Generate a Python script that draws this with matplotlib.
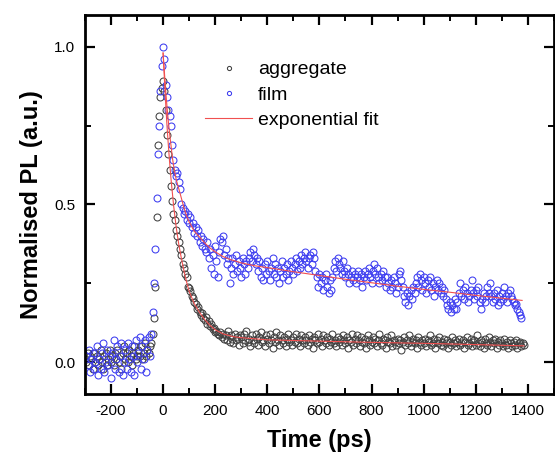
import numpy as np
import matplotlib
matplotlib.use("Agg")
import matplotlib.pyplot as plt
from matplotlib.ticker import MultipleLocator, FormatStrFormatter

plt.rcParams['font.family'] = ['Liberation Sans', 'DejaVu Sans']
plt.rcParams['axes.unicode_minus'] = False

# ---- data (time in ps, 5 ps steps) ----
t_start = -295
t_step = 5

aggregate = [
    0.00, 0.03, -0.01, 0.02, 0.01, -0.02, 0.03, 0.00, 0.02, -0.01,
    0.01, 0.04, 0.00, -0.02, 0.02, 0.03, -0.01, 0.01, 0.04, 0.00,
    0.02, -0.01, 0.03, 0.01, 0.04, 0.00, 0.02, -0.02, 0.03, 0.05,
    0.01, 0.03, 0.00, 0.04, 0.02, -0.01, 0.03, 0.05, 0.01, 0.02,
    0.04, 0.02, 0.05, 0.01, 0.03, 0.06, 0.02, 0.04, 0.03, 0.05,
    0.06, 0.09, 0.14, 0.24, 0.46, 0.69, 0.78, 0.84, 0.87, 0.89,
    0.86, 0.80, 0.72, 0.66, 0.61, 0.56, 0.51, 0.47, 0.45, 0.42,
    0.40, 0.38, 0.36, 0.34, 0.31, 0.30, 0.28, 0.27, 0.24, 0.235,
    0.225, 0.21, 0.205, 0.19, 0.185, 0.17, 0.175, 0.16, 0.15, 0.155,
    0.14, 0.135, 0.145, 0.12, 0.13, 0.115, 0.12, 0.105, 0.11, 0.095,
    0.10, 0.09, 0.085, 0.095, 0.08, 0.09, 0.075, 0.085, 0.07, 0.10,
    0.065, 0.085, 0.075, 0.06, 0.09, 0.07, 0.08, 0.055, 0.085,
    0.08, 0.06, 0.09, 0.07, 0.10, 0.065, 0.075, 0.05, 0.085, 0.07,
    0.06, 0.09, 0.075, 0.055, 0.08, 0.095, 0.065, 0.07, 0.05, 0.085,
    0.075, 0.06, 0.09, 0.07, 0.045, 0.08, 0.065, 0.095, 0.07, 0.055,
    0.085, 0.07, 0.06, 0.08, 0.05, 0.075, 0.09, 0.065, 0.07, 0.055,
    0.08, 0.065, 0.09, 0.06, 0.075, 0.05, 0.085, 0.07, 0.06, 0.08,
    0.07, 0.055, 0.085, 0.065, 0.075, 0.045, 0.08, 0.07, 0.06, 0.09,
    0.065, 0.075, 0.05, 0.085, 0.07, 0.06, 0.08, 0.055, 0.075, 0.065,
    0.09, 0.06, 0.07, 0.05, 0.08, 0.065, 0.075, 0.055, 0.085, 0.07,
    0.06, 0.08, 0.045, 0.07, 0.065, 0.09, 0.055, 0.075, 0.06, 0.085,
    0.07, 0.05, 0.08, 0.065, 0.06, 0.075, 0.045, 0.085, 0.07, 0.055,
    0.065, 0.08, 0.06, 0.075, 0.05, 0.07, 0.09, 0.06, 0.055, 0.075,
    0.07, 0.045, 0.08, 0.065, 0.06, 0.085, 0.05, 0.07, 0.065, 0.055,
    0.075, 0.06, 0.07, 0.04, 0.065, 0.08, 0.055, 0.07, 0.06, 0.085,
    0.05, 0.065, 0.075, 0.06, 0.07, 0.045, 0.08, 0.065, 0.055, 0.07,
    0.06, 0.075, 0.05, 0.07, 0.065, 0.085, 0.055, 0.06, 0.075, 0.045,
    0.07, 0.06, 0.08, 0.055, 0.065, 0.05, 0.075, 0.06, 0.07, 0.045,
    0.065, 0.055, 0.08, 0.06, 0.07, 0.05, 0.065, 0.075, 0.055, 0.06,
    0.07, 0.045, 0.065, 0.08, 0.055, 0.06, 0.075, 0.05, 0.065, 0.07,
    0.055, 0.085, 0.06, 0.05, 0.07, 0.065, 0.045, 0.075, 0.06, 0.055,
    0.08, 0.065, 0.05, 0.07, 0.06, 0.075, 0.045, 0.065, 0.055, 0.07,
    0.06, 0.05, 0.075, 0.055, 0.065, 0.045, 0.07, 0.06, 0.05, 0.065,
    0.055, 0.07, 0.045, 0.06, 0.065, 0.05, 0.06, 0.055,
]

film = [
    0.02, -0.01, 0.04, -0.03, 0.01, 0.03, -0.02, 0.00, 0.05, -0.04,
    0.01, -0.02, 0.03, 0.06, -0.03, 0.00, 0.04, -0.01, 0.02, -0.05,
    0.03, 0.07, -0.02, 0.01, 0.05, -0.03, 0.02, 0.06, -0.04, 0.00,
    0.04, -0.02, 0.06, 0.01, -0.03, 0.05, 0.02, -0.04, 0.07, 0.00,
    0.03, 0.08, -0.02, 0.05, 0.01, 0.07, -0.03, 0.04, 0.08, 0.02,
    0.09, 0.16, 0.25, 0.36, 0.52, 0.66, 0.75, 0.86, 0.94, 1.00,
    0.96, 0.88, 0.84, 0.80, 0.78, 0.75, 0.69, 0.64, 0.61, 0.59,
    0.60, 0.57, 0.55, 0.50, 0.49, 0.47, 0.48, 0.45, 0.47, 0.44,
    0.46, 0.43, 0.44, 0.41, 0.43, 0.40, 0.42, 0.38, 0.40, 0.37,
    0.39, 0.36, 0.35, 0.38, 0.33, 0.36, 0.30, 0.34, 0.28, 0.37,
    0.32, 0.27, 0.35, 0.39, 0.38, 0.40, 0.34, 0.36, 0.31, 0.33,
    0.25, 0.30, 0.33, 0.28, 0.31, 0.34, 0.29, 0.32, 0.30, 0.27,
    0.33, 0.31, 0.28, 0.32, 0.30, 0.33, 0.35, 0.32, 0.36, 0.34,
    0.31, 0.33, 0.29, 0.32, 0.27, 0.30, 0.26, 0.31, 0.28, 0.32,
    0.29, 0.26, 0.30, 0.33, 0.28, 0.31, 0.27, 0.30, 0.25, 0.29,
    0.32, 0.27, 0.30, 0.28, 0.31, 0.26, 0.29, 0.32, 0.30, 0.28,
    0.31, 0.33, 0.29, 0.32, 0.30, 0.34, 0.31, 0.33, 0.35, 0.32,
    0.30, 0.33, 0.34, 0.31, 0.35, 0.33, 0.29, 0.27, 0.24, 0.28,
    0.25, 0.27, 0.23, 0.26, 0.28, 0.24, 0.22, 0.26, 0.23, 0.27,
    0.30, 0.32, 0.29, 0.33, 0.31, 0.30, 0.28, 0.32, 0.29, 0.27,
    0.30, 0.28, 0.25, 0.27, 0.29, 0.26, 0.28, 0.25, 0.27, 0.29,
    0.26, 0.28, 0.24, 0.27, 0.29, 0.26, 0.28, 0.30, 0.27, 0.25,
    0.29, 0.31, 0.28, 0.30, 0.27, 0.25, 0.28, 0.26, 0.29, 0.27,
    0.24, 0.27, 0.25, 0.23, 0.26, 0.24, 0.27, 0.25, 0.22, 0.24,
    0.28, 0.29, 0.26, 0.24, 0.21, 0.19, 0.22, 0.18, 0.21, 0.23,
    0.20, 0.24, 0.22, 0.25, 0.27, 0.24, 0.28, 0.26, 0.23, 0.27,
    0.25, 0.22, 0.26, 0.24, 0.27, 0.23, 0.25, 0.21, 0.24, 0.26,
    0.23, 0.25, 0.22, 0.24, 0.21, 0.23, 0.20, 0.18, 0.17, 0.19,
    0.16, 0.18, 0.17, 0.20, 0.17, 0.19, 0.22, 0.25, 0.21, 0.23,
    0.20, 0.24, 0.22, 0.19, 0.21, 0.23, 0.26, 0.22, 0.20, 0.23,
    0.21, 0.24, 0.19, 0.17, 0.20, 0.22, 0.19, 0.21, 0.24, 0.22,
    0.25, 0.21, 0.19, 0.22, 0.20, 0.23, 0.18, 0.21, 0.19, 0.22,
    0.20, 0.24, 0.21, 0.19, 0.22, 0.23, 0.21, 0.20, 0.19, 0.18,
    0.185, 0.17, 0.16, 0.15, 0.14,
]

t_aggregate = t_start + t_step * np.arange(len(aggregate))
t_film = t_start + t_step * np.arange(len(film))

# exponential fit curves
fit_film_t = [0, 5, 10, 15, 20, 25, 30, 36, 40, 50, 65, 80, 91, 100, 120, 142, 160,
              180, 200, 230, 260, 300, 350, 400, 500, 600, 700, 800, 900, 1000,
              1100, 1200, 1300, 1378]
fit_film_y = [0.98, 0.92, 0.86, 0.81, 0.765, 0.725, 0.69, 0.647, 0.625, 0.58, 0.536,
              0.49, 0.462, 0.445, 0.415, 0.395, 0.378, 0.362, 0.35, 0.335, 0.325,
              0.315, 0.306, 0.30, 0.287, 0.275, 0.263, 0.252, 0.241, 0.231, 0.222,
              0.212, 0.203, 0.196]
fit_agg_t = [0, 5, 10, 15, 20, 25, 30, 40, 50, 60, 70, 80, 90, 100, 120, 140, 160,
             180, 200, 230, 270, 300, 400, 600, 800, 1000, 1200, 1385]
fit_agg_y = [0.98, 0.90, 0.82, 0.75, 0.69, 0.635, 0.585, 0.50, 0.43, 0.375, 0.33,
             0.29, 0.255, 0.225, 0.185, 0.158, 0.135, 0.117, 0.103, 0.09, 0.081,
             0.078, 0.071, 0.067, 0.063, 0.06, 0.056, 0.052]

x_ticks = [-200, 0, 200, 400, 600, 800, 1000, 1200, 1400]
y_ticks = [0.0, 0.5, 1.0]

# ---- plot ----
fig = plt.figure(figsize=(5.55, 4.59), dpi=100)
ax = fig.add_axes([0.153, 0.142, 0.845, 0.825])

gray = '#404040'
blue = '#3c3cf0'
red = '#f05050'

ax.plot(t_aggregate, aggregate, linestyle='none', marker='o', markersize=5.0,
        markerfacecolor='none', markeredgecolor=gray, markeredgewidth=0.75,
        label='aggregate')
ax.plot(t_film, film, linestyle='none', marker='o', markersize=5.0,
        markerfacecolor='none', markeredgecolor=blue, markeredgewidth=0.75,
        label='film')
ax.plot(fit_agg_t, fit_agg_y, color=red, linewidth=0.8, label='exponential fit')
ax.plot(fit_film_t, fit_film_y, color=red, linewidth=0.8)

ax.set_xlim(-300, 1500)
ax.set_ylim(-0.1, 1.1)
ax.set_xticks(x_ticks)
ax.set_yticks(y_ticks)
ax.xaxis.set_minor_locator(MultipleLocator(100))
ax.yaxis.set_minor_locator(MultipleLocator(0.25))
ax.yaxis.set_major_formatter(FormatStrFormatter('%.1f'))

ax.tick_params(which='both', direction='in', top=True, right=True,
               labelsize=11, colors='black')
ax.tick_params(which='major', length=7, width=1.6, pad=7)
ax.tick_params(which='minor', length=4, width=1.4)
for sp in ax.spines.values():
    sp.set_linewidth(2.0)

ax.set_xlabel('Time (ps)', fontsize=17, fontweight='bold', labelpad=8)
ax.set_ylabel('Normalised PL (a.u.)', fontsize=17, fontweight='bold', labelpad=8)

leg = ax.legend(loc='upper left', bbox_to_anchor=(0.24, 0.90), frameon=False,
                fontsize=14, markerscale=0.6, handlelength=2.4,
                handletextpad=0.3, labelspacing=0.4, borderaxespad=0)

fig.savefig('out.png', dpi=100)
